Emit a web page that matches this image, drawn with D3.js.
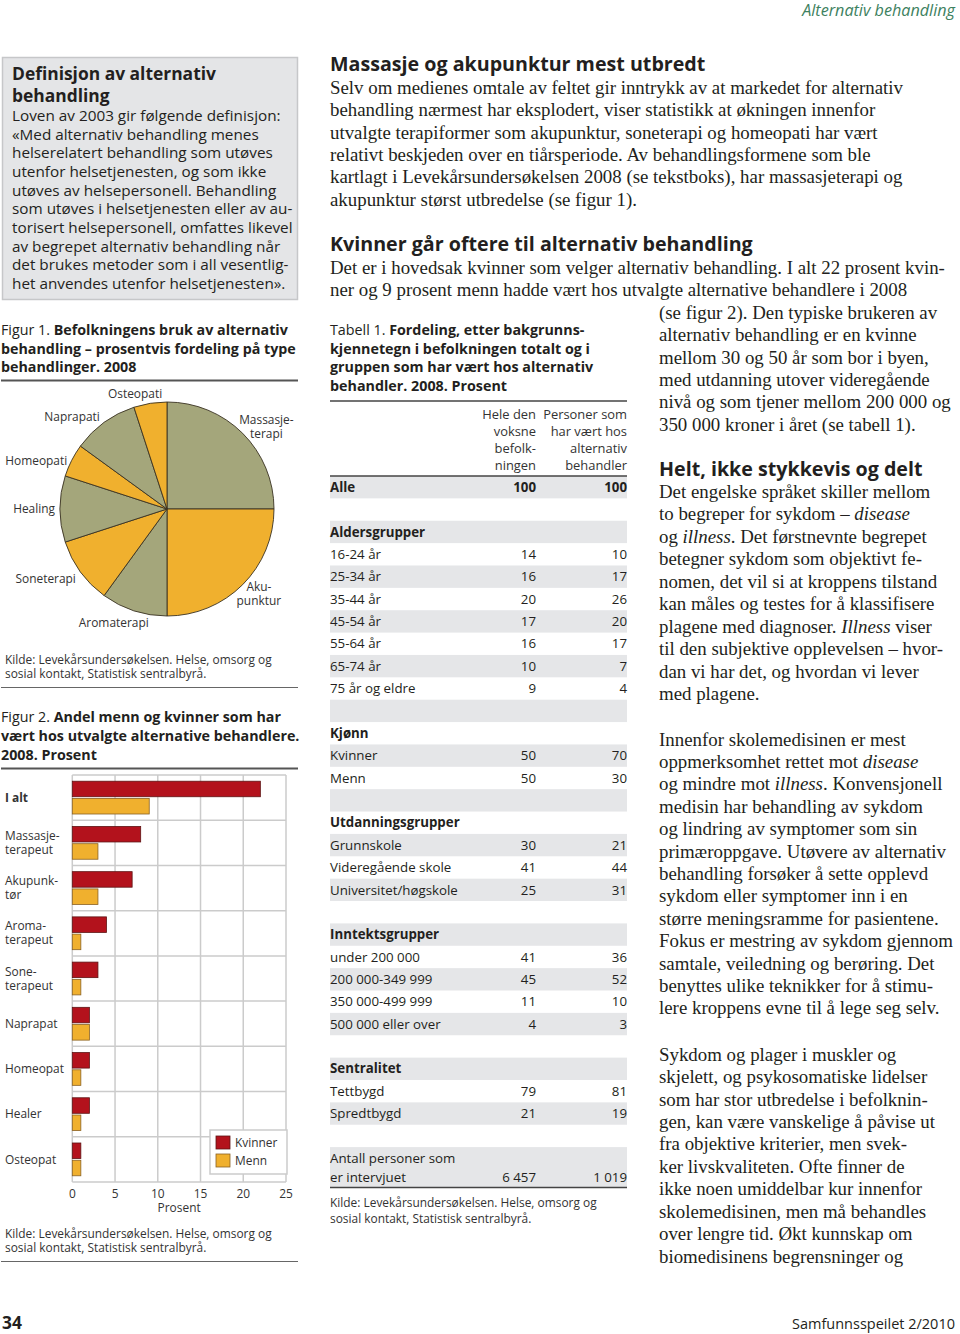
<!DOCTYPE html>
<html><head><meta charset="utf-8">
<script src="https://cdn.jsdelivr.net/npm/d3@7"></script>
<style>body{margin:0;background:#fff}</style>
</head><body>
<script>
// ---------------- DATA ----------------
const pieCategories = [["Massasje-","terapi"],["Aku-","punktur"],["Aromaterapi"],["Soneterapi"],["Healing"],["Homeopati"],["Naprapati"],["Osteopati"]];
const pieValues = [25,25,10,10,10,5,10,5];

const barCategories = [["*I alt*"],["Massasje-","terapeut"],["Akupunk-","tør"],["Aroma-","terapeut"],["Sone-","terapeut"],["Naprapat"],["Homeopat"],["Healer"],["Osteopat"]];
const kvinnerValues = [22,8,7,4,3,2,2,2,1];
const mennValues = [9,3,3,1,1,2,1,1,1];
const barSeries = ["Kvinner","Menn"];
const xTickValues = [0,5,10,15,20,25];

const tableLabels = ["Alle","","Aldersgrupper","16-24 år","25-34 år","35-44 år","45-54 år","55-64 år","65-74 år","75 år og eldre","","Kjønn","Kvinner","Menn","","Utdanningsgrupper","Grunnskole","Videregående skole","Universitet/høgskole","","Inntektsgrupper","under 200 000","200 000-349 999","350 000-499 999","500 000 eller over","","Sentralitet","Tettbygd","Spredtbygd","","Antall personer som\ner intervjuet"];
const tablePopulation = ["100","","","14","16","20","17","16","10","9","","","50","50","","","30","41","25","","","41","45","11","4","","","79","21","","6 457"];
const tableUsers = ["100","","","10","17","26","20","17","7","4","","","70","30","","","21","44","31","","","36","52","10","3","","","81","19","","1 019"];
const tableHeadings = ["Alle","Aldersgrupper","Kjønn","Utdanningsgrupper","Inntektsgrupper","Sentralitet"];
const tableColHeads = [["Hele den","voksne","befolk-","ningen"],["Personer som","har vært hos","alternativ","behandler"]];

// ---------------- TEXT ----------------
const boxTitle = ["Definisjon av alternativ","behandling"];
const boxBody = ["Loven av 2003 gir følgende definisjon:","«Med alternativ behandling menes","helserelatert behandling som utøves","utenfor helsetjenesten, og som ikke","utøves av helsepersonell. Behandling","som utøves i helsetjenesten eller av au-","torisert helsepersonell, omfattes likevel","av begrepet alternativ behandling når","det brukes metoder som i all vesentlig-","het anvendes utenfor helsetjenesten»."];
const fig1Caption = ["Figur 1. *Befolkningens bruk av alternativ*","*behandling – prosentvis fordeling på type*","*behandlinger. 2008*"];
const fig2Caption = ["Figur 2. *Andel menn og kvinner som har*","*vært hos utvalgte alternative behandlere.*","*2008. Prosent*"];
const tabCaption = ["Tabell 1. *Fordeling, etter bakgrunns-*","*kjennetegn i befolkningen totalt og i*","*gruppen som har vært hos alternativ*","*behandler. 2008. Prosent*"];
const kilde = ["Kilde: Levekårsundersøkelsen. Helse, omsorg og","sosial kontakt, Statistisk sentralbyrå."];
const head1 = "Massasje og akupunktur mest utbredt";
const para1 = ["Selv om medienes omtale av feltet gir inntrykk av at markedet for alternativ","behandling nærmest har eksplodert, viser statistikk at økningen innenfor","utvalgte terapiformer som akupunktur, soneterapi og homeopati har vært","relativt beskjeden over en tiårsperiode. Av behandlingsformene som ble","kartlagt i Levekårsundersøkelsen 2008 (se tekstboks), har massasjeterapi og","akupunktur størst utbredelse (se figur 1)."];
const head2 = "Kvinner går oftere til alternativ behandling";
const para2a = ["Det er i hovedsak kvinner som velger alternativ behandling. I alt 22 prosent kvin-","ner og 9 prosent menn hadde vært hos utvalgte alternative behandlere i 2008"];
const para2b = ["(se figur 2). Den typiske brukeren av","alternativ behandling er en kvinne","mellom 30 og 50 år som bor i byen,","med utdanning utover videregående","nivå og som tjener mellom 200 000 og","350 000 kroner i året (se tabell 1)."];
const head3 = "Helt, ikke stykkevis og delt";
const para3 = ["Det engelske språket skiller mellom","to begreper for sykdom – _disease_","og _illness_. Det førstnevnte begrepet","betegner sykdom som objektivt fe-","nomen, det vil si at kroppens tilstand","kan måles og testes for å klassifisere","plagene med diagnoser. _Illness_ viser","til den subjektive opplevelsen – hvor-","dan vi har det, og hvordan vi lever","med plagene."];
const para4 = ["Innenfor skolemedisinen er mest","oppmerksomhet rettet mot _disease_","og mindre mot _illness_. Konvensjonell","medisin har behandling av sykdom","og lindring av symptomer som sin","primæroppgave. Utøvere av alternativ","behandling forsøker å sette opplevd","sykdom eller symptomer inn i en","større meningsramme for pasientene.","Fokus er mestring av sykdom gjennom","samtale, veiledning og berøring. Det","benyttes ulike teknikker for å stimu-","lere kroppens evne til å lege seg selv."];
const para5 = ["Sykdom og plager i muskler og","skjelett, og psykosomatiske lidelser","som har stor utbredelse i befolknin-","gen, kan være vanskelige å påvise ut","fra objektive kriterier, men svek-","ker livskvaliteten. Ofte finner de","ikke noen umiddelbar kur innenfor","skolemedisinen, men må behandles","over lengre tid. Økt kunnskap om","biomedisinens begrensninger og"];

// ---------------- SETUP ----------------
const W = 960, H = 1334;
const SANS = "'Open Sans','Noto Sans',sans-serif";
const SERIF = "'Liberation Serif','DejaVu Serif',serif";
const INK = "#231f20";
const GREEN = "#a4a67b", ORANGE = "#f0b02e", RED = "#b3121c";

const svg = d3.select("body").append("svg").attr("width", W).attr("height", H).style("background", "#fff");

function parts(str) {
  return str.split(/(\*[^*]*\*|_[^_]*_)/).filter(s => s.length).map(s => {
    if (s[0] === "*") return {t: s.slice(1, -1), b: true};
    if (s[0] === "_") return {t: s.slice(1, -1), i: true};
    return {t: s};
  });
}
function fillText(sel, str) {
  parts(str).forEach(p => {
    const ts = sel.append("tspan").text(p.t);
    if (p.b) ts.attr("font-weight", "bold");
    if (p.i) ts.attr("font-style", "italic");
  });
}
const meas = svg.append("text").attr("x", -2000).attr("y", -2000);
function fit(str, fam, weight, style, target) {
  meas.selectAll("*").remove();
  meas.attr("font-family", fam).attr("font-weight", weight).attr("font-style", style || "normal").attr("font-size", 100);
  fillText(meas, str);
  const w = meas.node().getComputedTextLength();
  return 100 * target / w;
}
function line(g, x, yc, str, o) {
  const t = g.append("text").attr("x", x).attr("y", yc + o.size * 0.35)
    .attr("font-family", o.fam).attr("font-size", o.size)
    .attr("font-weight", o.weight || "normal").attr("fill", o.fill || INK)
    .attr("text-anchor", o.anchor || "start");
  if (o.style) t.attr("font-style", o.style);
  fillText(t, str);
  return t;
}
function block(g, x, y0, dy, lines, o) { lines.forEach((l, i) => line(g, x, y0 + i * dy, l, o)); }

// font sizes fitted to widths
const fsBoxTitle = fit(boxTitle[0], SANS, "bold", null, 204);
const fsBoxBody = fit(boxBody[0], SANS, "normal", null, 269);
const fsCap = fit(fig1Caption[1], SANS, "normal", null, 295);
const fsTabCap = fit(tabCaption[1], SANS, "normal", null, 260);
const fsKilde = fit(kilde[0], SANS, "normal", null, 267);
const fsPie = fit("Aromaterapi", SANS, "normal", null, 70);
const fsBar = fit("Homeopat", SANS, "normal", null, 59);
const fsHead = fit(head2, SANS, "bold", null, 423);
const fsSerif = Math.min(
  fit(para1[0], SERIF, "normal", null, 607),
  fit(para2a[0], SERIF, "normal", null, 615),
  fit(para2b[4], SERIF, "normal", null, 294),
  fit(para4[9], SERIF, "normal", null, 294),
  fit(para3[4], SERIF, "normal", null, 294),
  fit(para4[2], SERIF, "normal", null, 294)
);
const fsTable = fit("Universitet/høgskole", SANS, "normal", null, 128);
const fsTabHead = fit("Personer som", SANS, "normal", null, 84);
const fsTop = fit("Alternativ behandling", SANS, "normal", "italic", 153);
const fsFoot = fit("Samfunnsspeilet 2/2010", SANS, "normal", null, 163);
meas.remove();

const g = svg.append("g");

// ---------------- PAGE HEADER / FOOTER ----------------
line(g, 955, 10, "Alternativ behandling", {fam: SANS, size: fsTop, style: "italic", fill: "#3d8160", anchor: "end"});
line(g, 2, 1323, "34", {fam: SANS, size: fsFoot * 1.2, weight: "bold"});
line(g, 955, 1324, "Samfunnsspeilet 2/2010", {fam: SANS, size: fsFoot, anchor: "end"});

// ---------------- DEFINITION BOX ----------------
g.append("rect").attr("x", 2.5).attr("y", 57.5).attr("width", 295).attr("height", 242)
  .attr("fill", "#e4e5e7").attr("stroke", "#c6c7c9").attr("stroke-width", 1.5);
block(g, 12, 74, 22, boxTitle, {fam: SANS, size: fsBoxTitle, weight: "bold"});
block(g, 12, 115.5, 18.7, boxBody, {fam: SANS, size: fsBoxBody});

// ---------------- FIGURE 1 (PIE) ----------------
block(g, 1, 330, 18.6, fig1Caption, {fam: SANS, size: fsCap});
g.append("line").attr("x1", 1).attr("x2", 298).attr("y1", 380.5).attr("y2", 380.5).attr("stroke", "#555").attr("stroke-width", 2);

const pcx = 167, pcy = 509, pR = 107;
const pie = d3.pie().sort(null).value(d => d)(pieValues);
const arc = d3.arc().innerRadius(0).outerRadius(pR);
const pg = g.append("g").attr("transform", `translate(${pcx},${pcy})`);
pg.selectAll("path").data(pie).join("path")
  .attr("d", arc)
  .attr("fill", (d, i) => i % 2 === 0 ? GREEN : ORANGE)
  .attr("stroke", "#3a3222").attr("stroke-width", 0.9);

// label placement (polar: degrees clockwise from north, radius, anchor)
const pieLabelLayout = [
  {a: 50.4, r: 129, anchor: "middle"},
  {a: 132.7, r: 125, anchor: "middle"},
  {a: 205, r: 126, anchor: "middle"},
  {a: 232.4, r: 115, anchor: "end"},
  {a: 270, r: 112, anchor: "end"},
  {a: 296, r: 111, anchor: "end"},
  {a: 314, r: 132, anchor: "middle"},
  {a: 344.5, r: 119.5, anchor: "middle"}
];
pieCategories.forEach((lab, i) => {
  const L = pieLabelLayout[i], rad = L.a * Math.PI / 180;
  const lx = pcx + L.r * Math.sin(rad), ly = pcy - L.r * Math.cos(rad);
  const dy = 14.5, y0 = ly - (lab.length - 1) * dy / 2;
  lab.forEach((s, j) => line(g, lx, y0 + j * dy, s, {fam: SANS, size: fsPie, anchor: L.anchor, fill: "#333"}));
});

block(g, 5, 660, 13.5, kilde, {fam: SANS, size: fsKilde, fill: "#333"});
g.append("line").attr("x1", 1).attr("x2", 298).attr("y1", 687.5).attr("y2", 687.5).attr("stroke", "#666").attr("stroke-width", 1);

// ---------------- FIGURE 2 (BARS) ----------------
block(g, 1, 717, 19, fig2Caption, {fam: SANS, size: fsCap});
g.append("line").attr("x1", 1).attr("x2", 298).attr("y1", 768.5).attr("y2", 768.5).attr("stroke", "#555").attr("stroke-width", 2);

const bx = d3.scaleLinear().domain([0, 25]).range([72.3, 286]);
const by = d3.scaleBand().domain(d3.range(barCategories.length)).range([775, 1182]);
const bsub = d3.scaleBand().domain(barSeries).range([0, by.bandwidth()]).paddingInner(0.1).paddingOuter(0.36);
const grid = g.append("g").attr("stroke", "#cbcbcb").attr("stroke-width", 1.5);
grid.selectAll("line.v").data(xTickValues).join("line").attr("class", "v")
  .attr("x1", d => bx(d)).attr("x2", d => bx(d)).attr("y1", 775).attr("y2", 1182);
grid.selectAll("line.h").data(d3.range(barCategories.length + 1)).join("line").attr("class", "h")
  .attr("x1", bx(0)).attr("x2", bx(25))
  .attr("y1", d => d < barCategories.length ? by(d) : 1182)
  .attr("y2", d => d < barCategories.length ? by(d) : 1182);

const seriesVals = [kvinnerValues, mennValues];
const seriesFill = [RED, ORANGE];
const seriesStroke = ["#5e1414", "#8a6224"];
seriesVals.forEach((vals, s) => {
  g.append("g").selectAll("rect").data(vals).join("rect")
    .attr("x", bx(0)).attr("y", (d, i) => by(i) + bsub(barSeries[s]))
    .attr("width", d => bx(d) - bx(0)).attr("height", bsub.bandwidth())
    .attr("fill", seriesFill[s]).attr("stroke", seriesStroke[s]).attr("stroke-width", 0.8);
});

barCategories.forEach((lab, i) => {
  const c = by(i) + by.bandwidth() / 2, dy = 14, y0 = c - (lab.length - 1) * dy / 2;
  lab.forEach((s, j) => line(g, 5, y0 + j * dy, s, {fam: SANS, size: fsBar, fill: "#333"}));
});
xTickValues.forEach(t => line(g, bx(t), 1194, String(t), {fam: SANS, size: fsBar, anchor: "middle", fill: "#333"}));
line(g, (bx(0) + bx(25)) / 2, 1208, "Prosent", {fam: SANS, size: fsBar, anchor: "middle", fill: "#333"});

// legend
const lg = g.append("g");
lg.append("rect").attr("x", 210).attr("y", 1130).attr("width", 77).attr("height", 44).attr("fill", "#fff").attr("stroke", "#cbcbcb").attr("stroke-width", 1.5);
barSeries.forEach((s, i) => {
  lg.append("rect").attr("x", 216).attr("y", 1136 + i * 18).attr("width", 14).attr("height", 13)
    .attr("fill", seriesFill[i]).attr("stroke", seriesStroke[i]).attr("stroke-width", 0.8);
  line(lg, 235, 1142.5 + i * 18, s, {fam: SANS, size: fsBar, fill: "#333"});
});

block(g, 5, 1234, 13.5, kilde, {fam: SANS, size: fsKilde, fill: "#333"});
g.append("line").attr("x1", 1).attr("x2", 298).attr("y1", 1261.5).attr("y2", 1261.5).attr("stroke", "#666").attr("stroke-width", 1);

// ---------------- MIDDLE / RIGHT TEXT ----------------
const SER = {fam: SERIF, size: fsSerif};
line(g, 330, 64, head1, {fam: SANS, size: fsHead, weight: "bold"});
block(g, 330, 87, 22.45, para1, SER);
line(g, 330, 244, head2, {fam: SANS, size: fsHead, weight: "bold"});
block(g, 330, 267, 22.45, para2a, SER);
block(g, 659, 312, 22.45, para2b, SER);
line(g, 659, 469, head3, {fam: SANS, size: fsHead, weight: "bold"});
block(g, 659, 491, 22.5, para3, SER);
block(g, 659, 739, 22.4, para4, SER);
block(g, 659, 1054, 22.45, para5, SER);

// ---------------- TABLE 1 ----------------
block(g, 330, 330, 18.7, tabCaption, {fam: SANS, size: fsTabCap});
const tL = 330, tR = 627, c1 = 536;
g.append("line").attr("x1", tL).attr("x2", tR).attr("y1", 401).attr("y2", 401).attr("stroke", "#444").attr("stroke-width", 1.5);
tableColHeads.forEach((lines, k) => block(g, k === 0 ? c1 : tR, 414, 17, lines, {fam: SANS, size: fsTabHead, anchor: "end", fill: "#333"}));

const rowH = 22.37, tTop = 476;
const tg = g.append("g");
tableLabels.forEach((lab, i) => {
  const y = tTop + i * rowH;
  const last = i === tableLabels.length - 1;
  const h = last ? 40 : rowH;
  if (i % 2 === 0) tg.append("rect").attr("x", tL).attr("y", y).attr("width", tR - tL).attr("height", h).attr("fill", "#e5e6e8");
  const bold = tableHeadings.includes(lab);
  const o = {fam: SANS, size: fsTable, weight: bold ? "bold" : "normal", fill: INK};
  const labLines = lab.split("\n");
  const yc = last ? y + 11 : y + rowH / 2;
  labLines.forEach((s, j) => line(tg, tL, yc + j * 19, s, o));
  const yv = yc + (labLines.length - 1) * 19;
  const ov = Object.assign({}, o, {anchor: "end", weight: lab === "Alle" ? "bold" : "normal"});
  if (tablePopulation[i]) line(tg, c1, yv, tablePopulation[i], ov);
  if (tableUsers[i]) line(tg, tR, yv, tableUsers[i], ov);
});
g.append("line").attr("x1", tL).attr("x2", tR).attr("y1", 476).attr("y2", 476).attr("stroke", "#444").attr("stroke-width", 1.5);
g.append("line").attr("x1", tL).attr("x2", tR).attr("y1", 1187.5).attr("y2", 1187.5).attr("stroke", "#444").attr("stroke-width", 1.5);
block(g, 330, 1203, 16, kilde, {fam: SANS, size: fsKilde, fill: "#333"});
</script>
</body></html>
